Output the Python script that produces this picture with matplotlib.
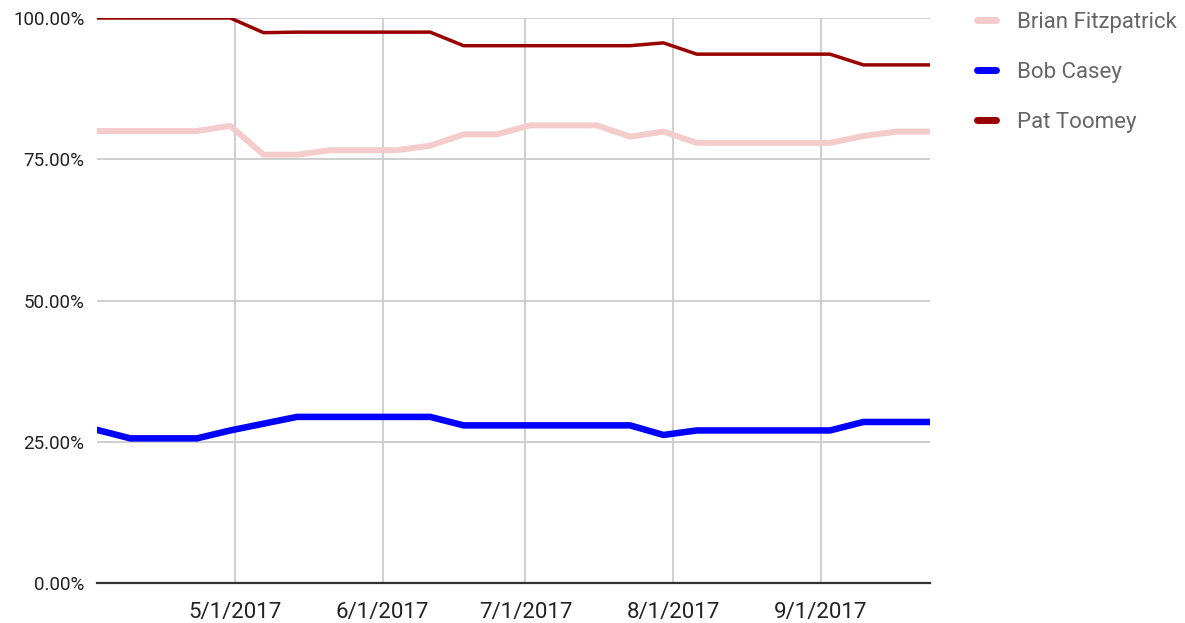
import matplotlib
matplotlib.use("Agg")
import matplotlib.pyplot as plt
from matplotlib.lines import Line2D
import pandas as pd

plt.rcParams['font.family'] = ['Roboto', 'DejaVu Sans']

# weekly poll dates
dates = ["2017-04-02", "2017-04-09", "2017-04-16", "2017-04-23", "2017-04-30",
         "2017-05-07", "2017-05-14", "2017-05-21", "2017-05-28", "2017-06-04",
         "2017-06-11", "2017-06-18", "2017-06-25", "2017-07-02", "2017-07-09",
         "2017-07-16", "2017-07-23", "2017-07-30", "2017-08-06", "2017-08-13",
         "2017-08-20", "2017-08-27", "2017-09-03", "2017-09-10", "2017-09-17",
         "2017-09-24"]

fitzpatrick = [80.0, 80.0, 80.0, 80.0, 80.9, 75.8, 75.8, 76.6, 76.6, 76.6,
               77.4, 79.4, 79.4, 81.0, 81.0, 81.0, 79.0, 79.9, 77.9, 77.9,
               77.9, 77.9, 77.9, 79.1, 79.9, 79.9]
casey = [27.1, 25.6, 25.6, 25.6, 27.0, 28.2, 29.4, 29.4, 29.4, 29.4,
         29.4, 27.9, 27.9, 27.9, 27.9, 27.9, 27.9, 26.2, 27.0, 27.0,
         27.0, 27.0, 27.0, 28.5, 28.5, 28.5]
toomey = [100.0, 100.0, 100.0, 100.0, 100.0, 97.4, 97.5, 97.5, 97.5, 97.5,
          97.5, 95.1, 95.1, 95.1, 95.1, 95.1, 95.1, 95.6, 93.6, 93.6,
          93.6, 93.6, 93.6, 91.7, 91.7, 91.7]

series_names = ["Brian Fitzpatrick", "Bob Casey", "Pat Toomey"]
colors = ["#f4cccc", "#0000ff", "#990000"]

month_ticks = ["2017-05-01", "2017-06-01", "2017-07-01", "2017-08-01", "2017-09-01"]
month_labels = ["5/1/2017", "6/1/2017", "7/1/2017", "8/1/2017", "9/1/2017"]
y_ticks = [0, 25, 50, 75, 100]
y_labels = ["0.00%", "25.00%", "50.00%", "75.00%", "100.00%"]

x = pd.to_datetime(dates)

fig = plt.figure(figsize=(11.85, 6.23), dpi=100)
ax = fig.add_axes([97 / 1185, 1 - 583 / 623, (930 - 97) / 1185, (583 - 18) / 623])

ax.plot(x, fitzpatrick, color=colors[0], lw=4.3, solid_joinstyle='round', zorder=3)
ax.plot(x, casey, color=colors[1], lw=4.7, solid_joinstyle='round', zorder=4)
ax.plot(x, toomey, color=colors[2], lw=2.5, solid_joinstyle='round', zorder=5)

ax.set_xlim(x[0], x[-1])
ax.set_ylim(0, 100)

ax.set_xticks(pd.to_datetime(month_ticks))
ax.set_xticklabels(month_labels)
ax.set_yticks(y_ticks)
ax.set_yticklabels(y_labels)

ax.grid(True, color="#cccccc", lw=1.3)
ax.set_axisbelow(True)
for s in ["top", "right", "left"]:
    ax.spines[s].set_visible(False)
ax.spines["bottom"].set_color("#333333")
ax.spines["bottom"].set_linewidth(1.6)
ax.spines["bottom"].set_zorder(6)

ax.tick_params(axis='both', length=0, colors="#222222")
ax.tick_params(axis='y', labelsize=13.5, pad=9)
ax.tick_params(axis='x', labelsize=16, pad=13.5)

handles = [Line2D([0], [0], color=c, lw=5, solid_capstyle='round') for c in colors]
fig.legend(handles, series_names, loc='upper left', bbox_to_anchor=(965 / 1185, 1.0),
           frameon=False, fontsize=16, handlelength=0.85, handletextpad=0.95,
           labelspacing=1.3, labelcolor="#666666", borderaxespad=0.15)

fig.savefig("out.png", dpi=100)
